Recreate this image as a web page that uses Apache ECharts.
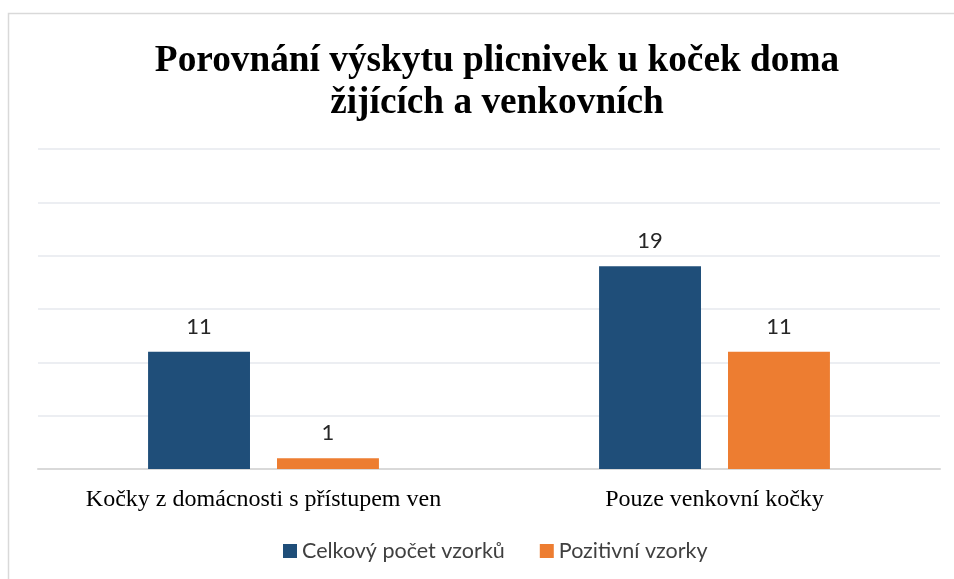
<!DOCTYPE html>
<html>
<head>
<meta charset="utf-8">
<script src="https://cdn.jsdelivr.net/npm/echarts@6/dist/echarts.min.js"></script>
<style>
  html, body { margin: 0; padding: 0; background: #fff; }
  #chart { width: 954px; height: 579px; }
</style>
</head>
<body>
<div id="chart"></div>
<script>
const categories = ["Kočky z domácnosti s přístupem ven", "Pouze venkovní kočky"];
const totalSamples = [11, 19];
const positiveSamples = [1, 11];
const seriesNames = ["Celkový počet vzorků", "Pozitivní vzorky"];

const chart = echarts.init(document.getElementById("chart"));

const labelStyle = {
  show: true,
  position: "top",
  distance: 14,
  fontFamily: "Lato",
  fontSize: 22,
  color: "#262626",
};

chart.setOption({
  backgroundColor: "#fff",
  animation: false,
  graphic: [
    {
      type: "rect",
      shape: { x: 8.5, y: 13.5, width: 2000, height: 2000 },
      style: { fill: "none", stroke: "#d9d9d9", lineWidth: 1.5 },
      silent: true,
    },
  ],
  title: {
    text: "Porovnání výskytu plicnivek u koček doma\nžijících a venkovních",
    left: 492,
    top: 35,
    textAlign: "center",
    textStyle: {
      fontFamily: "Liberation Serif",
      fontWeight: "bold",
      fontSize: 37.3,
      lineHeight: 42,
      color: "#000",
    },
  },
  legend: {
    data: seriesNames,
    left: 278,
    top: 535,
    itemWidth: 14,
    itemHeight: 14,
    itemGap: 35,
    icon: "rect",
    textStyle: { fontFamily: "Lato", fontSize: 21.5, color: "#404040" },
  },
  grid: { left: 38, right: 14, top: 149, bottom: 110 },
  xAxis: {
    type: "category",
    data: categories,
    axisTick: { show: false },
    axisLine: { lineStyle: { color: "#d9d9d9", width: 2 } },
    axisLabel: {
      interval: 0,
      margin: 19,
      fontFamily: "Liberation Serif",
      fontSize: 24,
      color: "#000",
    },
  },
  yAxis: {
    type: "value",
    min: 0,
    max: 30,
    interval: 5,
    axisLabel: { show: false },
    axisLine: { show: false },
    axisTick: { show: false },
    splitLine: { lineStyle: { color: "#e6e9ee", width: 1.5 } },
  },
  series: [
    {
      name: seriesNames[0],
      type: "bar",
      data: totalSamples,
      barWidth: "22.6%",
      barGap: "26.5%",
      itemStyle: { color: "#1f4e79" },
      label: labelStyle,
    },
    {
      name: seriesNames[1],
      type: "bar",
      data: positiveSamples,
      barWidth: "22.6%",
      itemStyle: { color: "#ed7d31" },
      label: labelStyle,
    },
  ],
});
</script>
</body>
</html>
